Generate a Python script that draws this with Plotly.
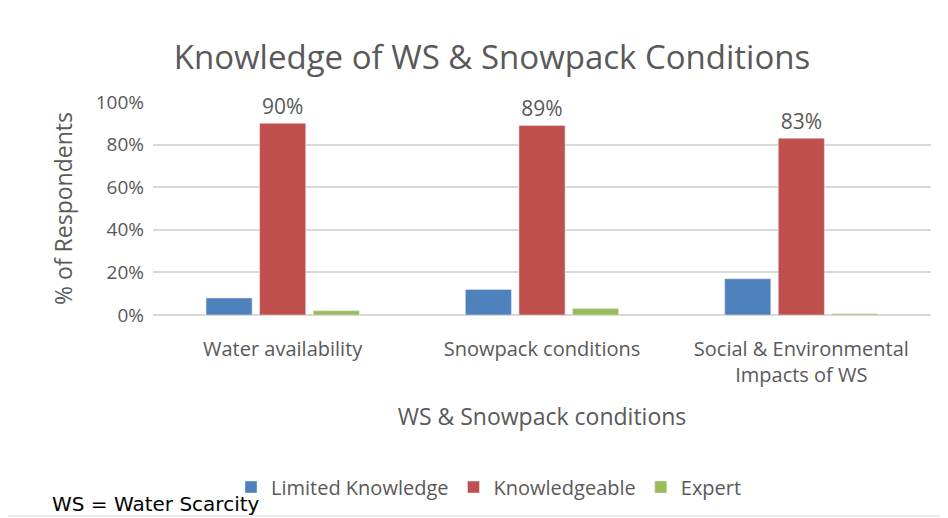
import plotly.graph_objects as go

categories = ["Water availability", "Snowpack conditions", "Social & Environmental<br>Impacts of WS"]
limited = [8, 12, 17]
knowledgeable = [90, 89, 83]
expert = [2, 3, 0.6]
y_ticks = [0, 20, 40, 60, 80, 100]
y_tick_labels = ["0%", "20%", "40%", "60%", "80%", "100%"]

FONT = "Open Sans"
GRAY = "#595959"

fig = go.Figure()
fig.add_bar(x=categories, y=limited, name="Limited Knowledge", marker_color="#4F81BD")
fig.add_bar(x=categories, y=knowledgeable, name="Knowledgeable", marker_color="#C0504D",
            text=[f"{v}%" for v in knowledgeable], textposition="outside",
            textfont=dict(size=21, color=GRAY, family=FONT), cliponaxis=False)
fig.add_bar(x=categories, y=expert, name="Expert", marker_color="#9BBB59")

# page body has an ~8px offset; figure is sized to the visible area
W, H = 940, 510
ml, mr, mt, mb = 145, 17, 94, 203
pw, ph = W - ml - mr, H - mt - mb

def px(x):
    return (x - ml) / pw

def py(y):
    return (H - mb - y) / ph

fig.update_layout(
    width=W, height=H,
    margin=dict(l=ml, r=mr, t=mt, b=mb),
    paper_bgcolor="white", plot_bgcolor="white",
    font=dict(family=FONT, color=GRAY),
    barmode="group", bargap=0.38, bargroupgap=0.14,
    title=dict(text="Knowledge of WS & Snowpack Conditions", x=484 / W, xanchor="center",
               xref="container", yref="container", y=1 - 49 / H, yanchor="middle",
               font=dict(size=33, color=GRAY, family=FONT)),
    showlegend=True,
    legend=dict(orientation="h", x=px(481), xanchor="center", y=py(479), yanchor="middle",
                font=dict(size=20, color=GRAY, family=FONT), itemwidth=30,
                traceorder="normal"),
    xaxis=dict(showgrid=False, showline=False, ticks="", ticklabelstandoff=20,
               tickfont=dict(size=20, color=GRAY, family=FONT),
               title=dict(text="WS & Snowpack conditions", font=dict(size=23, color=GRAY, family=FONT), standoff=21)),
    yaxis=dict(range=[0, 100], tickvals=y_ticks, ticktext=y_tick_labels,
               showgrid=True, gridcolor="#D9D9D9", gridwidth=1.5,
               zeroline=True, zerolinecolor="#D9D9D9", zerolinewidth=1.5,
               tickfont=dict(size=19, color=GRAY, family=FONT), ticks="", ticklabelstandoff=8,
               title=dict(text="% of Respondents", font=dict(size=23, color=GRAY, family=FONT), standoff=16)),
)

fig.add_annotation(text="WS = Water Scarcity", xref="paper", yref="paper",
                   x=px(42), y=py(496), xanchor="left", yanchor="middle", showarrow=False,
                   font=dict(size=20, color="black", family="DejaVu Sans"))

fig.add_shape(type="rect", xref="paper", yref="paper",
              x0=px(-5), x1=px(938), y0=py(508), y1=py(-5),
              line=dict(color="#D9D9D9", width=1), fillcolor="rgba(0,0,0,0)", layer="below")

fig.write_html("out.html")
